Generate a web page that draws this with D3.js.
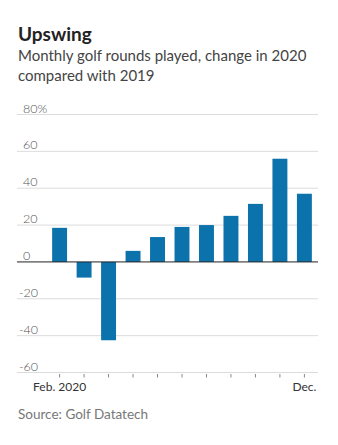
<!DOCTYPE html>
<html>
<head>
<meta charset="utf-8">
<script src="https://cdn.jsdelivr.net/npm/d3@7"></script>
<style>
  body { margin: 0; background: #fff; }
  svg text { font-family: Lato, "Open Sans", sans-serif; }
</style>
</head>
<body>
<div id="chart"></div>
<script>
var months = ['Feb', 'Mar', 'Apr', 'May', 'Jun', 'Jul', 'Aug', 'Sep', 'Oct', 'Nov', 'Dec'];
var change = [18.5, -8.5, -42.5, 6, 13.5, 19, 20, 25, 31.5, 56, 37];
var yTicks = [80, 60, 40, 20, 0, -20, -40, -60];
var xLabels = { Feb: 'Feb. 2020', Dec: 'Dec.' };

var width = 338,
    height = 445,
    left = 17,
    right = 318;

var svg = d3.select('#chart')
    .append('svg')
    .attr('width', width)
    .attr('height', height);

// headline + subhead
svg.append('text')
    .attr('x', 18).attr('y', 41)
    .attr('font-size', 19).attr('font-weight', 700)
    .attr('fill', '#222')
    .text('Upswing');

svg.append('text')
    .attr('x', 18).attr('y', 61)
    .attr('font-size', 15).attr('fill', '#444')
    .text('Monthly golf rounds played, change in 2020');
svg.append('text')
    .attr('x', 18).attr('y', 81)
    .attr('font-size', 15).attr('fill', '#444')
    .text('compared with 2019');

var y = d3.scaleLinear().domain([-60, 80]).range([372.5, 114.5]);
var x = d3.scaleBand().domain(months).range([47, 317]).paddingInner(0.39).paddingOuter(0.21);

// gridlines
svg.append('g').selectAll('line.grid')
    .data(yTicks.filter(function (d) { return d !== 0; }))
    .enter().append('line')
    .attr('class', 'grid')
    .attr('x1', left).attr('x2', right)
    .attr('y1', function (d) { return y(d); })
    .attr('y2', function (d) { return y(d); })
    .attr('stroke', '#dcdcdc').attr('stroke-width', 1);

// tick labels sit just above their line
svg.append('g').selectAll('text.ytick')
    .data(yTicks)
    .enter().append('text')
    .attr('class', 'ytick')
    .attr('x', function (d) { return d < 0 ? 19 : 23; })
    .attr('y', function (d) { return y(d) - 2; })
    .attr('font-size', 12.5).attr('font-weight', 300).attr('fill', '#555')
    .text(function (d) { return d === 80 ? '80%' : d; });

// bars
svg.append('g').selectAll('rect.bar')
    .data(change)
    .enter().append('rect')
    .attr('class', 'bar')
    .attr('x', function (d, i) { return x(months[i]); })
    .attr('width', x.bandwidth())
    .attr('y', function (d) { return y(Math.max(0, d)); })
    .attr('height', function (d) { return Math.abs(y(d) - y(0)); })
    .attr('fill', '#0b72ab');

// zero line
svg.append('line')
    .attr('x1', left).attr('x2', right)
    .attr('y1', y(0)).attr('y2', y(0))
    .attr('stroke', '#222').attr('stroke-width', 1);

// month ticks under the bottom gridline
svg.append('g').selectAll('line.xtick')
    .data(months)
    .enter().append('line')
    .attr('class', 'xtick')
    .attr('x1', function (d) { return x(d) + x.bandwidth() / 2; })
    .attr('x2', function (d) { return x(d) + x.bandwidth() / 2; })
    .attr('y1', y(-60) + 1.5).attr('y2', y(-60) + 5)
    .attr('stroke', '#888').attr('stroke-width', 1);

svg.append('g').selectAll('text.xlabel')
    .data(months.filter(function (d) { return xLabels[d]; }))
    .enter().append('text')
    .attr('class', 'xlabel')
    .attr('x', function (d) { return x(d) + x.bandwidth() / 2; })
    .attr('y', 391)
    .attr('text-anchor', 'middle')
    .attr('font-size', 12).attr('fill', '#333')
    .text(function (d) { return xLabels[d]; });

svg.append('text')
    .attr('x', 18).attr('y', 419)
    .attr('font-size', 13.5).attr('fill', '#777')
    .text('Source: Golf Datatech');
</script>
</body>
</html>
